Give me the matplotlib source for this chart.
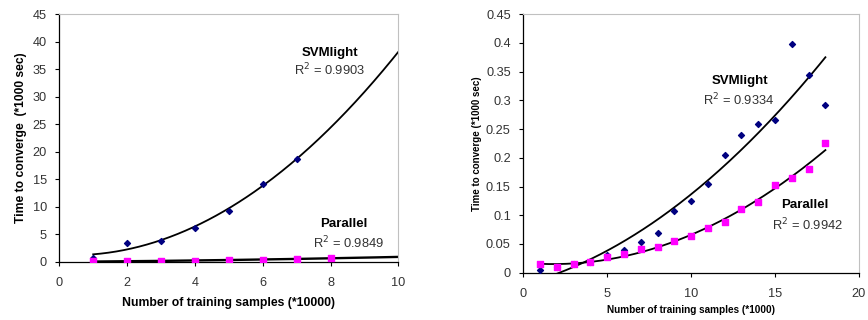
import numpy as np
import matplotlib
matplotlib.use('Agg')
import matplotlib.pyplot as plt

plt.rcParams['font.family'] = ['Liberation Sans', 'DejaVu Sans']

# left chart data (*10000 samples, *1000 sec)
x_left_svm = [1, 2, 3, 4, 5, 6, 7]
y_left_svm = [0.7, 3.5, 3.7, 6.1, 9.3, 14.2, 18.7]
x_left_par = [1, 2, 3, 4, 5, 6, 7, 8]
y_left_par = [0.05, 0.05, 0.2, 0.2, 0.4, 0.35, 0.5, 0.65]

# right chart data (*1000 samples, *1000 sec)
x_right = list(range(1, 19))
y_right_svm = [0.005, 0.01, 0.015, 0.018, 0.03, 0.04, 0.053, 0.069, 0.108,
               0.124, 0.155, 0.204, 0.239, 0.258, 0.266, 0.398, 0.344, 0.292]
y_right_par = [0.015, 0.01, 0.015, 0.018, 0.027, 0.032, 0.042, 0.045, 0.055,
               0.064, 0.078, 0.088, 0.11, 0.123, 0.153, 0.164, 0.18, 0.225]

navy = '#000080'
pink = '#ff00ff'
tick_col = '#333333'


def style(ax):
    for s in ['top', 'right']:
        ax.spines[s].set_color('#c0c0c0')
    for s in ['left', 'bottom']:
        ax.spines[s].set_color('black')
        ax.spines[s].set_linewidth(0.9)
    ax.tick_params(direction='out', length=3, width=0.8, labelsize=9.2,
                   labelcolor=tick_col)
    ax.tick_params(axis='x', pad=8)
    ax.tick_params(axis='y', pad=6)


def trend(ax, x, y, x0, x1, lw=1.3):
    c = np.polyfit(x, y, 2)
    xs = np.linspace(x0, x1, 200)
    ax.plot(xs, np.polyval(c, xs), color='black', lw=lw, zorder=2)


fig = plt.figure(figsize=(8.68, 3.2), dpi=100)

# left chart
ax1 = fig.add_axes([0.0683, 0.182, 0.3906, 0.773])
trend(ax1, x_left_svm, y_left_svm, 1, 10)
trend(ax1, x_left_par, y_left_par, 1, 10, lw=1.7)
ax1.scatter(x_left_svm, y_left_svm, marker='D', s=9, color=navy, zorder=3)
ax1.scatter(x_left_par, y_left_par, marker='s', s=14, color=pink, zorder=3)
ax1.set_xlim(0, 10)
ax1.set_ylim(0, 45)
ax1.set_xticks([0, 2, 4, 6, 8, 10])
ax1.set_yticks(range(0, 46, 5))
style(ax1)
ax1.set_xlabel('Number of training samples (*10000)', fontsize=8.8,
               fontweight='bold', labelpad=6)
ax1.set_ylabel('Time to converge  (*1000 sec)', fontsize=8.7,
               fontweight='bold', labelpad=4)
ax1.text(7.98, 37.96, 'SVMlight', fontsize=9.5, fontweight='bold',
         ha='center', va='center')
ax1.text(7.98, 34.9, r'R$^2$ = 0.9903', fontsize=9.3, ha='center',
         va='center', color=tick_col)
ax1.text(8.4, 6.86, 'Parallel', fontsize=9.5, fontweight='bold',
         ha='center', va='center')
ax1.text(8.53, 3.4, r'R$^2$ = 0.9849', fontsize=9.3, ha='center',
         va='center', color=tick_col)

# right chart
ax2 = fig.add_axes([0.6029, 0.148, 0.3867, 0.8075])
trend(ax2, x_right, y_right_svm, 1, 18)
trend(ax2, x_right, y_right_par, 1, 18)
ax2.scatter(x_right, y_right_svm, marker='D', s=9, color=navy, zorder=3)
ax2.scatter(x_right, y_right_par, marker='s', s=14, color=pink, zorder=3)
ax2.set_xlim(0, 20)
ax2.set_ylim(0, 0.45)
ax2.set_xticks([0, 5, 10, 15, 20])
ax2.set_yticks(np.arange(0, 0.451, 0.05))
ax2.set_yticklabels(['0', '0.05', '0.1', '0.15', '0.2', '0.25', '0.3',
                     '0.35', '0.4', '0.45'])
style(ax2)
ax2.set_xlabel('Number of training samples (*1000)', fontsize=7.2,
               fontweight='bold', labelpad=4)
ax2.set_ylabel('Time to converge (*1000 sec)', fontsize=7.0,
               fontweight='bold', labelpad=3)
ax2.text(12.91, 0.334, 'SVMlight', fontsize=9.5, fontweight='bold',
         ha='center', va='center')
ax2.text(12.85, 0.3008, r'R$^2$ = 0.9334', fontsize=9.3, ha='center',
         va='center', color=tick_col)
ax2.text(16.77, 0.1179, 'Parallel', fontsize=9.5, fontweight='bold',
         ha='center', va='center')
ax2.text(16.93, 0.0831, r'R$^2$ = 0.9942', fontsize=9.3, ha='center',
         va='center', color=tick_col)

fig.savefig('out.png', dpi=100)
